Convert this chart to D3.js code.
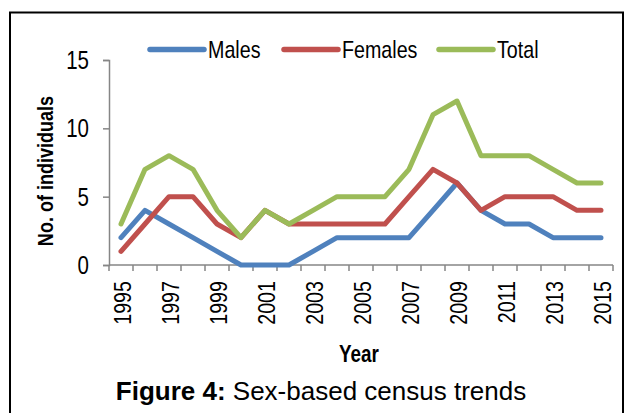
<!DOCTYPE html>
<html>
<head>
<meta charset="utf-8">
<script src="https://cdn.jsdelivr.net/npm/d3@7"></script>
<style>
  body { margin: 0; background: #fff; }
  text { font-family: "Liberation Sans", Arial, sans-serif; fill: #000; }
</style>
</head>
<body>
<svg id="chart" width="626" height="413"></svg>
<script>
// Data
const years = d3.range(1995, 2016);
const males   = [2, 4, 3, 2, 1, 0, 0, 0, 1, 2, 2, 2, 2, 4, 6, 4, 3, 3, 2, 2, 2];
const females = [1, 3, 5, 5, 3, 2, 4, 3, 3, 3, 3, 3, 5, 7, 6, 4, 5, 5, 5, 4, 4];
const total   = [3, 7, 8, 7, 4, 2, 4, 3, 4, 5, 5, 5, 7, 11, 12, 8, 8, 8, 7, 6, 6];
const yTicks = [0, 5, 10, 15];
const xTickLabels = years.filter(y => (y - 1995) % 2 === 0);

const series = [
  { name: "Males", values: males, color: "#4F81BD" },
  { name: "Females", values: females, color: "#C0504D" },
  { name: "Total", values: total, color: "#9BBB59" }
];

const svg = d3.select("#chart");
const narrow = 0.82; // the figure uses a condensed face

// outer frame
svg.append("rect")
  .attr("x", 10).attr("y", 12.5)
  .attr("width", 613).attr("height", 420)
  .attr("fill", "none").attr("stroke", "#000").attr("stroke-width", 2);

const margin = { left: 109, right: 613, top: 60, bottom: 265 };

// category axis (ticks between categories)
const xScale = d3.scaleBand()
  .domain(years)
  .range([margin.left, margin.right]);

const yScale = d3.scaleLinear()
  .domain([0, 15])
  .range([margin.bottom, margin.top]);

const axisColor = "#868686";

// y axis
const yAxis = svg.append("g")
  .attr("transform", `translate(${margin.left},0)`)
  .call(d3.axisLeft(yScale).tickValues(yTicks).tickSize(6).tickFormat(""));
yAxis.select(".domain").attr("stroke", axisColor).attr("stroke-width", 1.5);
yAxis.selectAll(".tick line").attr("stroke", axisColor).attr("stroke-width", 1.5);

svg.selectAll(".ylab")
  .data(yTicks)
  .enter().append("text")
  .attr("transform", d => `translate(89,${yScale(d) + 9}) scale(${narrow},1)`)
  .attr("text-anchor", "end")
  .attr("font-size", 25)
  .text(d => d);

// x axis: ticks at category boundaries
const boundaries = years.map(y => xScale(y)).concat([margin.right]);
const xg = svg.append("g");
xg.append("line")
  .attr("x1", margin.left).attr("x2", margin.right)
  .attr("y1", margin.bottom).attr("y2", margin.bottom)
  .attr("stroke", axisColor).attr("stroke-width", 1.5);
xg.selectAll(".xt")
  .data(boundaries)
  .enter().append("line")
  .attr("x1", d => d).attr("x2", d => d)
  .attr("y1", margin.bottom).attr("y2", margin.bottom + 6)
  .attr("stroke", axisColor).attr("stroke-width", 1.5);
xg.selectAll(".xl")
  .data(xTickLabels)
  .enter().append("text")
  .attr("transform", d => `translate(${xScale(d) + xScale.bandwidth() / 2 + 10},${margin.bottom + 16}) rotate(-90) scale(${narrow},1)`)
  .attr("text-anchor", "end")
  .attr("font-size", 24)
  .text(d => d);

// lines
const line = d3.line()
  .x((d, i) => xScale(years[i]) + xScale.bandwidth() / 2)
  .y(d => yScale(d));

svg.selectAll(".series")
  .data(series)
  .enter().append("path")
  .attr("d", d => line(d.values))
  .attr("fill", "none")
  .attr("stroke", d => d.color)
  .attr("stroke-width", 5)
  .attr("stroke-linejoin", "round")
  .attr("stroke-linecap", "round");

// legend
const legendX = [150, 284, 439];
const lg = svg.selectAll(".legend")
  .data(series)
  .enter().append("g")
  .attr("transform", (d, i) => `translate(${legendX[i]},49.5)`);
lg.append("line")
  .attr("x1", 0).attr("x2", 54)
  .attr("stroke", d => d.color)
  .attr("stroke-width", 5.5)
  .attr("stroke-linecap", "round");
lg.append("text")
  .attr("transform", `translate(58,8) scale(${narrow},1)`)
  .attr("font-size", 24)
  .text(d => d.name);

// axis titles
svg.append("text")
  .attr("transform", `translate(53,171) rotate(-90) scale(${narrow},1)`)
  .attr("text-anchor", "middle")
  .attr("font-size", 22).attr("font-weight", "bold")
  .text("No. of individuals");

svg.append("text")
  .attr("transform", `translate(359,362) scale(${narrow},1)`)
  .attr("text-anchor", "middle")
  .attr("font-size", 23).attr("font-weight", "bold")
  .text("Year");

// caption
const cap = svg.append("text")
  .attr("x", 321).attr("y", 400)
  .attr("text-anchor", "middle")
  .attr("font-size", 26);
cap.append("tspan").attr("font-weight", "bold").text("Figure 4:");
cap.append("tspan").text(" Sex-based census trends");
</script>
</body>
</html>
